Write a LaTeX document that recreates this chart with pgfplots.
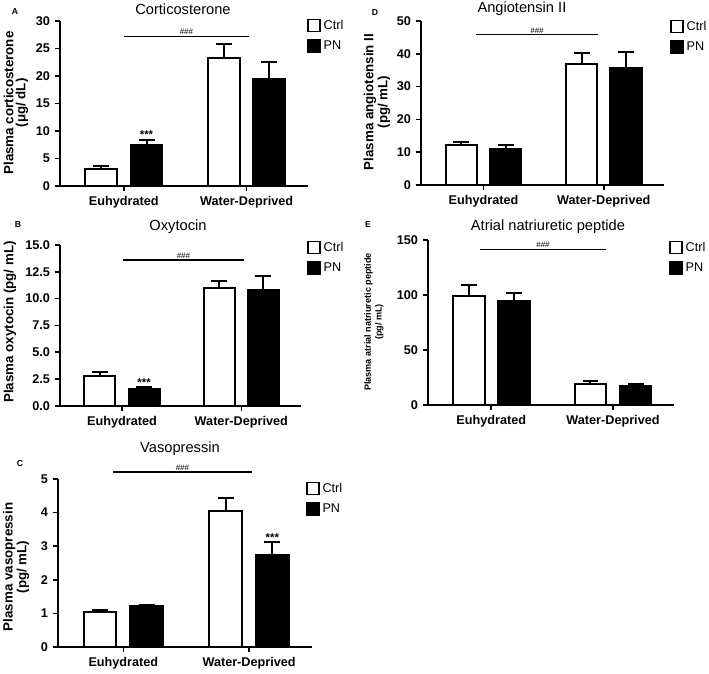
\documentclass[border=0pt]{standalone}
\usepackage{fontspec}
\setmainfont{Liberation Sans}
\usepackage{pgfplots}
\pgfplotsset{compat=1.18}

\pgfplotsset{
  panel/.style={
    scale only axis, anchor=south west,
    axis x line=bottom, axis y line=left,
    axis line style={line width=1.4pt, -},
    xmin=-0.52, xmax=1.5, ymin=0,
    xtick={0,1}, xticklabels={Euhydrated, Water-Deprived},
    tick align=outside, major tick length=4pt,
    every tick/.style={black, line width=1.2pt},
    tick label style={font=\bfseries\fontsize{9.5}{11}\selectfont},
    /pgf/number format/assume math mode=true,
    clip=false,
    legend style={draw=none, fill=none, font=\fontsize{9.5}{10}\selectfont,
      anchor=north west, legend cell align=left, inner sep=0pt, row sep=3pt},
    legend image code/.code={\draw[#1, line width=1.3pt] (0pt,-4.5pt) rectangle (9pt,4.5pt);},
  },
  ctrl/.style={forget plot, ybar, bar width=0.26, bar shift=0pt,
    fill=white, draw=black, line width=1.5pt,
    error bars/y dir=plus, error bars/y explicit,
    error bars/error bar style={line width=1.5pt, black},
    error bars/error mark options={black, rotate=90, mark size=6pt, line width=1.5pt}},
  pn/.style={ctrl, fill=black},
}
\tikzset{
  ttl/.style={font=\fontsize{11}{13}\selectfont},
  lett/.style={font=\bfseries\fontsize{6.5}{8}\selectfont},
  ylab/.style={rotate=90, align=center, font=\bfseries\fontsize{10}{9}\selectfont},
  hash/.style={above, inner sep=1pt, font=\fontsize{6}{6}\selectfont},
  star/.style={inner sep=0pt, font=\bfseries\fontsize{8.5}{8}\selectfont},
  sig/.style={line width=1.1pt},
}

\begin{document}
\begin{tikzpicture}
\begin{scope}[x=0.75pt, y=0.75pt]
\useasboundingbox (0,0) rectangle (709,668);
\node[ttl] at (183,659) {Corticosterone};
\node[lett] at (15,656) {A};
\node[ylab] at (16,565) {Plasma corticosterone\\(μg/ dL)};
\node[ttl] at (522,659) {Angiotensin II};
\node[lett] at (375,655) {D};
\node[ylab] at (377,566) {Plasma angiotensin II\\(pg/ mL)};
\node[ttl] at (178,441) {Oxytocin};
\node[lett] at (18,443) {B};
\node[ylab] at (10,346) {Plasma oxytocin (pg/ mL)};
\node[ttl] at (548,441) {Atrial natriuretic peptide};
\node[lett] at (368,443) {E};
\node[ylab, font=\bfseries\fontsize{6.8}{8.2}\selectfont] at (374,346) {Plasma atrial natriuretic peptide\\(pg/ mL)};
\node[ttl] at (180,219) {Vasopressin};
\node[lett] at (20,204) {C};
\node[ylab] at (16,101) {Plasma vasopressin\\(pg/ mL)};
\end{scope}

% A: corticosterone
\begin{axis}[panel, at={(45pt,361.5pt)}, width=186pt, height=123.75pt,
  ymax=30, ytick={0,5,...,30},
  legend style={at={(0.996,1.024)}}]
  \addplot[ctrl] coordinates {(-0.185,3.15) +- (0,0.45) (0.815,23.3) +- (0,2.5)};
  \addplot[pn] coordinates {(0.185,7.5) +- (0,0.8) (1.185,19.5) +- (0,3.0)};
  \addlegendimage{fill=white, draw=black}
  \addlegendimage{fill=black, draw=black}
  \legend{Ctrl, PN}
  \draw[sig] (axis cs:0,27.2) -- (axis cs:1.02,27.2);
  \node[hash] at (axis cs:0.51,27.2) {\#\#\#};
  \node[star] at (axis cs:0.185,9.3) {***};
\end{axis}

% D: angiotensin II
\begin{axis}[panel, at={(315.75pt,362.25pt)}, width=182.25pt, height=123pt,
  ymax=50, ytick={0,10,...,50},
  legend style={at={(1.025,1.018)}}]
  \addplot[ctrl] coordinates {(-0.185,12.2) +- (0,0.8) (0.815,37.0) +- (0,3.1)};
  \addplot[pn] coordinates {(0.185,11.05) +- (0,1.15) (1.185,35.8) +- (0,4.6)};
  \addlegendimage{fill=white, draw=black}
  \addlegendimage{fill=black, draw=black}
  \legend{Ctrl, PN}
  \draw[sig] (axis cs:-0.06,45.8) -- (axis cs:0.95,45.8);
  \node[hash] at (axis cs:0.445,45.8) {\#\#\#};
\end{axis}

% B: oxytocin
\begin{axis}[panel, at={(45pt,196.5pt)}, width=180.75pt, height=120.75pt,
  ymax=15, ytick={0,2.5,...,15},
  yticklabel style={/pgf/number format/.cd, fixed, fixed zerofill, precision=1},
  legend style={at={(1.025,1.037)}}]
  \addplot[ctrl] coordinates {(-0.185,2.83) +- (0,0.3) (0.815,11.0) +- (0,0.6)};
  \addplot[pn] coordinates {(0.185,1.58) +- (0,0.16) (1.185,10.8) +- (0,1.3)};
  \addlegendimage{fill=white, draw=black}
  \addlegendimage{fill=black, draw=black}
  \legend{Ctrl, PN}
  \draw[sig] (axis cs:0.01,13.6) -- (axis cs:1.02,13.6);
  \node[hash] at (axis cs:0.515,13.6) {\#\#\#};
  \node[star] at (axis cs:0.185,2.2) {***};
\end{axis}

% E: atrial natriuretic peptide
\begin{axis}[panel, at={(321pt,197.25pt)}, width=184.5pt, height=123.75pt,
  ymax=150, ytick={0,50,100,150},
  legend style={at={(0.98,1.006)}}]
  \addplot[ctrl] coordinates {(-0.185,99.2) +- (0,9.7) (0.815,19.4) +- (0,2.7)};
  \addplot[pn] coordinates {(0.185,94.6) +- (0,7.3) (1.185,17.2) +- (0,1.8)};
  \addlegendimage{fill=white, draw=black}
  \addlegendimage{fill=black, draw=black}
  \legend{Ctrl, PN}
  \draw[sig] (axis cs:-0.09,141.5) -- (axis cs:0.94,141.5);
  \node[hash] at (axis cs:0.425,141.5) {\#\#\#};
\end{axis}

% C: vasopressin
\begin{axis}[panel, at={(43.5pt,15.75pt)}, width=190.5pt, height=126pt,
  ymax=5, ytick={0,1,...,5},
  legend style={at={(0.976,0.994)}}]
  \addplot[ctrl] coordinates {(-0.185,1.04) +- (0,0.06) (0.815,4.06) +- (0,0.37)};
  \addplot[pn] coordinates {(0.185,1.21) +- (0,0.05) (1.185,2.73) +- (0,0.39)};
  \addlegendimage{fill=white, draw=black}
  \addlegendimage{fill=black, draw=black}
  \legend{Ctrl, PN}
  \draw[sig] (axis cs:-0.08,5.21) -- (axis cs:1.02,5.21);
  \node[hash] at (axis cs:0.47,5.21) {\#\#\#};
  \node[star] at (axis cs:1.185,3.24) {***};
\end{axis}
\end{tikzpicture}
\end{document}
